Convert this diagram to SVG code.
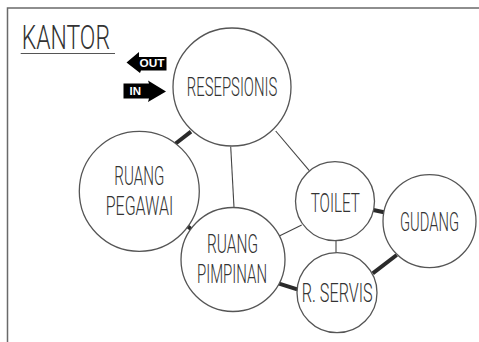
<svg xmlns="http://www.w3.org/2000/svg" width="479" height="342" viewBox="0 0 479 342">
<style>
.bg{fill:#fff}
.frame{fill:none;stroke:#6a6a6a;stroke-width:1.5}
.node{fill:#fff;stroke:#555;stroke-width:1.3}
.lbl{font-family:"Roboto","Liberation Sans",sans-serif;font-weight:300;font-size:25px;fill:#333;text-anchor:middle}
.title{font-family:"Roboto","Liberation Sans",sans-serif;font-weight:300;font-size:33px;fill:#333;text-anchor:middle}
.thin{stroke:#444;stroke-width:1.1;fill:none}
.thick{stroke:#2a2a2a;stroke-width:4;fill:none}
.arrow{fill:#000}
.atext{font-family:"Liberation Sans","Arial",sans-serif;font-weight:bold;font-size:11.5px;fill:#fff;text-anchor:middle}
</style>
<rect class="bg" x="0" y="0" width="479" height="342"/>
<rect class="frame" x="7.5" y="8" width="490" height="350"/>
<g id="title">
<text class="title" transform="translate(65.8,49.3) scale(0.69,1)" textLength="128" lengthAdjust="spacingAndGlyphs">KANTOR</text>
<line x1="20.7" y1="53.5" x2="115" y2="53.5" stroke="#555" stroke-width="1.2"/>
</g>
<g id="out-arrow">
<polygon class="arrow" points="126.5,62.5 139,52 139,57 166.5,57 166.5,70.5 141,70.5 140,73"/>
<text class="atext" x="152" y="66.7" textLength="25" lengthAdjust="spacingAndGlyphs">OUT</text>
</g>
<g id="in-arrow">
<polygon class="arrow" points="123.5,83.5 149,83.5 148,80.5 166,91.5 148,102 149,98.5 123.5,98.5"/>
<text class="atext" x="135.3" y="95" textLength="11.5" lengthAdjust="spacingAndGlyphs">IN</text>
</g>
<g id="connectors">
<line class="thick" x1="175" y1="144" x2="191" y2="131.7"/>
<line class="thin" x1="230.7" y1="146.5" x2="234" y2="207.5"/>
<line class="thin" x1="275.7" y1="131" x2="309.3" y2="170.7"/>
<line class="thick" x1="185.5" y1="224.5" x2="191" y2="229" stroke-width="3"/>
<line class="thin" x1="279.3" y1="236" x2="301.7" y2="225"/>
<line class="thin" x1="336" y1="240.7" x2="336" y2="252.7"/>
<line class="thick" x1="373.3" y1="210" x2="384" y2="212.3"/>
<line class="thick" x1="278.3" y1="283.3" x2="297.3" y2="289.3"/>
<line class="thick" x1="372.7" y1="273.3" x2="396.7" y2="255"/>
</g>
<g id="resepsionis">
<circle class="node" cx="232" cy="87" r="59"/>
<text class="lbl" transform="translate(232,96) scale(0.6,1)" textLength="151" lengthAdjust="spacingAndGlyphs">RESEPSIONIS</text>
</g>
<g id="ruang-pegawai">
<circle class="node" cx="139.3" cy="191.3" r="60"/>
<text class="lbl" transform="translate(139.3,185) scale(0.6,1)" textLength="83.3" lengthAdjust="spacingAndGlyphs">RUANG</text>
<text class="lbl" transform="translate(139.5,215) scale(0.6,1)" textLength="112.7" lengthAdjust="spacingAndGlyphs">PEGAWAI</text>
</g>
<g id="ruang-pimpinan">
<circle class="node" cx="233" cy="259.5" r="52"/>
<text class="lbl" transform="translate(232.5,253) scale(0.6,1)" textLength="85" lengthAdjust="spacingAndGlyphs">RUANG</text>
<text class="lbl" transform="translate(232,283.3) scale(0.6,1)" textLength="116.7" lengthAdjust="spacingAndGlyphs">PIMPINAN</text>
</g>
<g id="toilet">
<circle class="node" cx="335" cy="201.2" r="39.5"/>
<text class="lbl" transform="translate(335.3,211.7) scale(0.6,1)" textLength="82.2" lengthAdjust="spacingAndGlyphs">TOILET</text>
</g>
<g id="gudang">
<circle class="node" cx="429.5" cy="221.2" r="46.5"/>
<text class="lbl" transform="translate(429.5,230.7) scale(0.6,1)" textLength="98.3" lengthAdjust="spacingAndGlyphs">GUDANG</text>
</g>
<g id="r-servis">
<circle class="node" cx="337" cy="292.7" r="40"/>
<text class="lbl" transform="translate(337.2,301.7) scale(0.6,1)" textLength="118.3" lengthAdjust="spacingAndGlyphs">R. SERVIS</text>
</g>
</svg>
